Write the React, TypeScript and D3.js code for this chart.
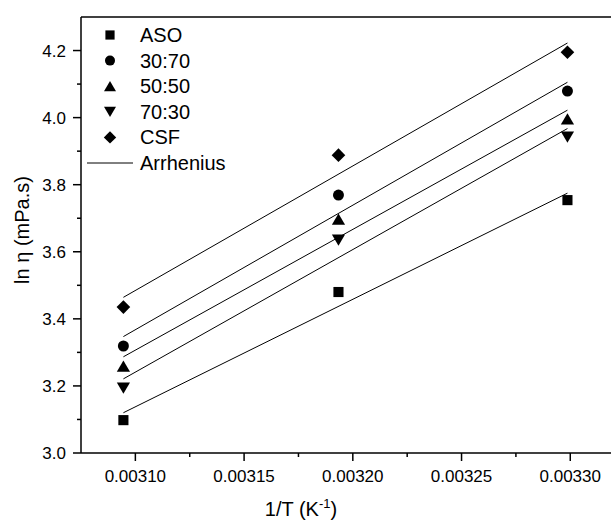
import React from "react";
import * as d3 from "d3";

const invT = [0.0030945, 0.0031934, 0.0032987];
const seriesNames = ["ASO", "30:70", "50:50", "70:30", "CSF"];
const ASO = [3.098, 3.48, 3.754];
const r30_70 = [3.319, 3.769, 4.079];
const r50_50 = [3.259, 3.697, 3.996];
const r70_30 = [3.194, 3.635, 3.942];
const CSF = [3.435, 3.888, 4.195];
const xTicks = [0.0031, 0.00315, 0.0032, 0.00325, 0.0033];
const xMinor = [0.003125, 0.003175, 0.003225, 0.003275, 0.003325];
const yTicks = [3.0, 3.2, 3.4, 3.6, 3.8, 4.0, 4.2];
const yMinor = [3.1, 3.3, 3.5, 3.7, 3.9, 4.1];
const fitLabel = "Arrhenius";

const W = 611;
const H = 522;
const left = 81;
const top = 17;
const bottom = 453;
const font = "Liberation Sans, Arial, Helvetica, sans-serif";

const symbolPath = (k: number, s: number) => {
  switch (k) {
    case 0:
      return `M${-s * 0.46},${-s * 0.46}H${s * 0.46}V${s * 0.46}H${-s * 0.46}Z`;
    case 1: {
      const r = s * 0.5;
      return `M${r},0A${r},${r} 0 1,1 ${-r},0A${r},${r} 0 1,1 ${r},0Z`;
    }
    case 2:
      return `M0,${-s * 0.52}L${s * 0.6},${s * 0.5}L${-s * 0.6},${s * 0.5}Z`;
    case 3:
      return `M0,${s * 0.52}L${s * 0.6},${-s * 0.5}L${-s * 0.6},${-s * 0.5}Z`;
    default:
      return `M0,${-s * 0.62}L${s * 0.62},0L0,${s * 0.62}L${-s * 0.62},0Z`;
  }
};

export default function App() {
  const data = [ASO, r30_70, r50_50, r70_30, CSF];
  const x = d3.scaleLinear().domain([0.003075, 0.00335]).range([left, 679]);
  const y = d3.scaleLinear().domain([3.0, 4.3]).range([bottom, top]);

  const fits = data.map((ys) => {
    const mx = d3.mean(invT) as number;
    const my = d3.mean(ys) as number;
    let sxy = 0,
      sxx = 0;
    invT.forEach((xv, i) => {
      sxy += (xv - mx) * (ys[i] - my);
      sxx += (xv - mx) * (xv - mx);
    });
    const b = sxy / sxx;
    const a = my - b * mx;
    const x0 = d3.min(invT) as number;
    const x1 = d3.max(invT) as number;
    return [
      [x0, a + b * x0],
      [x1, a + b * x1],
    ] as [number, number][];
  });
  const line = d3
    .line<[number, number]>()
    .x((d) => x(d[0]))
    .y((d) => y(d[1]));

  const legendY = (i: number) => 35 + i * 25.6;

  return (
    <svg
      width={W}
      height={H}
      style={{ position: "absolute", left: 0, top: 0, background: "#fff" }}
      fontFamily={font}
    >
      <rect x={0} y={0} width={W} height={H} fill="#fff" />
      {fits.map((f, i) => (
        <path key={"f" + i} d={line(f) || ""} fill="none" stroke="#000" strokeWidth={1} />
      ))}
      {data.map((ys, k) =>
        ys.map((v, i) => (
          <path
            key={`m${k}-${i}`}
            d={symbolPath(k, 11)}
            transform={`translate(${x(invT[i])},${y(v)})`}
            fill="#000"
          />
        ))
      )}
      <line x1={left} x2={W} y1={top} y2={top} stroke="#000" strokeWidth={1.5} />
      <line x1={left} x2={left} y1={top} y2={bottom} stroke="#000" strokeWidth={1.5} />
      <line x1={left} x2={W} y1={bottom} y2={bottom} stroke="#000" strokeWidth={1.5} />
      {xTicks.map((t) => (
        <g key={"xt" + t}>
          <line x1={x(t)} x2={x(t)} y1={bottom} y2={bottom + 8} stroke="#000" strokeWidth={1.5} />
          <text x={x(t)} y={482} textAnchor="middle" fontSize={17}>
            {t.toFixed(5)}
          </text>
        </g>
      ))}
      {xMinor.map((t) => (
        <line key={"xm" + t} x1={x(t)} x2={x(t)} y1={bottom} y2={bottom + 4} stroke="#000" strokeWidth={1.5} />
      ))}
      {yTicks.map((t) => (
        <g key={"yt" + t}>
          <line x1={left - 8} x2={left} y1={y(t)} y2={y(t)} stroke="#000" strokeWidth={1.5} />
          <text x={66} y={y(t) + 6} textAnchor="end" fontSize={17}>
            {t.toFixed(1)}
          </text>
        </g>
      ))}
      {yMinor.map((t) => (
        <line key={"ym" + t} x1={left - 4} x2={left} y1={y(t)} y2={y(t)} stroke="#000" strokeWidth={1.5} />
      ))}
      <text x={301} y={516} textAnchor="middle" fontSize={20}>
        1/T (K
        <tspan dy={-8} fontSize={13}>
          -1
        </tspan>
        <tspan dy={8}>)</tspan>
      </text>
      <text transform={`translate(29,230) rotate(-90)`} textAnchor="middle" fontSize={20}>
        ln η (mPa.s)
      </text>
      {seriesNames.map((n, k) => (
        <g key={"lg" + n}>
          <path d={symbolPath(k, 10)} transform={`translate(110,${legendY(k)})`} fill="#000" />
          <text x={140} y={legendY(k) + 7} fontSize={20}>
            {n}
          </text>
        </g>
      ))}
      <line x1={87} x2={133} y1={legendY(5)} y2={legendY(5)} stroke="#000" strokeWidth={1} />
      <text x={140} y={legendY(5) + 7} fontSize={20}>
        {fitLabel}
      </text>
    </svg>
  );
}
